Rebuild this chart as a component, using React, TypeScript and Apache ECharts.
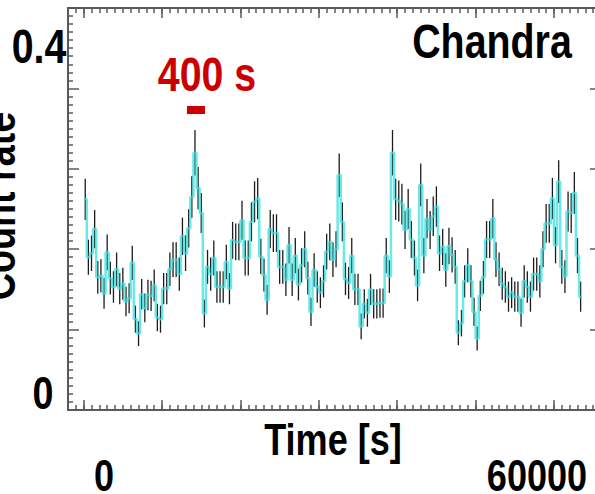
import React, { useEffect, useRef } from 'react';
import * as echarts from 'echarts';

// Time binning of the light curve (seconds per bin)
const BIN_SECONDS = 400;

// Chandra count rate per 400 s bin (counts/s)
const countRate = [
  0.262, 0.190, 0.195, 0.225, 0.165, 0.167, 0.145, 0.196, 0.164, 0.153,
  0.175, 0.151, 0.157, 0.135, 0.139, 0.183, 0.113, 0.095, 0.144, 0.127,
  0.143, 0.142, 0.155, 0.115, 0.113, 0.151, 0.151, 0.175, 0.187, 0.187,
  0.169, 0.216, 0.195, 0.226, 0.265, 0.320, 0.276, 0.245, 0.120, 0.178,
  0.169, 0.189, 0.153, 0.153, 0.153, 0.184, 0.151, 0.211, 0.209, 0.209,
  0.236, 0.189, 0.189, 0.234, 0.259, 0.263, 0.191, 0.168, 0.137, 0.225,
  0.220, 0.220, 0.178, 0.178, 0.162, 0.205, 0.162, 0.192, 0.156, 0.180,
  0.200, 0.164, 0.122, 0.174, 0.153, 0.146, 0.160, 0.197, 0.209, 0.187,
  0.200, 0.292, 0.234, 0.163, 0.158, 0.192, 0.150, 0.150, 0.104, 0.132,
  0.121, 0.150, 0.132, 0.132, 0.133, 0.133, 0.192, 0.166, 0.320, 0.262,
  0.260, 0.256, 0.224, 0.250, 0.212, 0.189, 0.155, 0.280, 0.192, 0.238,
  0.224, 0.241, 0.253, 0.195, 0.203, 0.174, 0.204, 0.193, 0.178, 0.096,
  0.108, 0.160, 0.180, 0.160, 0.122, 0.089, 0.142, 0.165, 0.212, 0.212,
  0.238, 0.187, 0.175, 0.157, 0.153, 0.141, 0.146, 0.141, 0.141, 0.121,
  0.160, 0.153, 0.141, 0.169, 0.169, 0.160, 0.200, 0.232, 0.232, 0.263,
  0.205, 0.284, 0.178, 0.166, 0.247, 0.245, 0.270, 0.192, 0.141,
];

// Axis ranges and ticks
const X_MIN = -2000;
const X_MAX = 66000;
const Y_MIN = 0;
const Y_MAX = 0.5;
const xMajorTicks = [0, 10000, 20000, 30000, 40000, 50000, 60000];
const X_MINOR_STEP = 1000;

// Tick labels (placed as in the reference)
const yTickLabels = ['0.4', '0'];
const xTickLabels = ['0', '60000'];
const xTitle = 'Time [s]';
const yTitle = 'Count rate';
const instrument = 'Chandra';
const binLabel = '400 s';

const FONT = '"Liberation Sans", Arial, Helvetica, sans-serif';
const NARROW = 0.82;
const AXIS_COLOR = '#5a5a5a';

function label(text: string, x: number, y: number, size: number, fill = '#000', rotation = 0) {
  return {
    type: 'text',
    x,
    y,
    rotation,
    scaleX: NARROW,
    style: {
      text,
      fontSize: size,
      fontWeight: 'bold',
      fontFamily: FONT,
      fill,
      align: 'center',
      verticalAlign: 'middle',
    },
  };
}

export default function App() {
  const ref = useRef<HTMLDivElement>(null);

  useEffect(() => {
    if (!ref.current) return;
    const chart = echarts.init(ref.current, undefined, { renderer: 'svg' });

    const centers = countRate.map((_, i) => BIN_SECONDS * (i + 0.5));
    const errData = countRate.map((v, i) => [centers[i], v, Math.sqrt(v / BIN_SECONDS)]);
    const stepData: number[][] = [[0, countRate[0]]];
    countRate.forEach((v, i) => stepData.push([centers[i], v]));
    stepData.push([countRate.length * BIN_SECONDS, countRate[countRate.length - 1]]);

    const axisLine = { show: true, onZero: false, lineStyle: { color: AXIS_COLOR, width: 2 } };
    const tickStyle = { color: AXIS_COLOR, width: 1.5 };

    const majorXAxis = (position: string) => ({
      type: 'value',
      min: X_MIN,
      max: X_MAX,
      position,
      axisLine,
      axisTick: { show: true, inside: true, length: 10, customValues: xMajorTicks, lineStyle: tickStyle },
      axisLabel: { show: false },
      splitLine: { show: false },
    });
    const minorXAxis = (position: string) => ({
      type: 'value',
      min: X_MIN,
      max: X_MAX,
      interval: X_MINOR_STEP,
      position,
      axisLine,
      axisTick: { show: true, inside: true, length: 5, lineStyle: tickStyle },
      axisLabel: { show: false },
      splitLine: { show: false },
    });

    const option: any = {
      animation: false,
      backgroundColor: '#ffffff',
      grid: {
        left: 68,
        top: 8,
        width: 533,
        height: 402,
        containLabel: false,
        outerBoundsMode: 'none',
      },
      xAxis: [minorXAxis('bottom'), majorXAxis('bottom'), minorXAxis('top'), majorXAxis('top')],
      yAxis: [
        {
          type: 'value',
          min: Y_MIN,
          max: Y_MAX,
          interval: 0.1,
          position: 'left',
          axisLine,
          axisTick: { show: true, inside: true, length: 11, lineStyle: tickStyle },
          minorTick: { show: true, splitNumber: 10, length: 5, lineStyle: tickStyle },
          axisLabel: { show: false },
          splitLine: { show: false },
          minorSplitLine: { show: false },
        },
        {
          type: 'value',
          min: Y_MIN,
          max: Y_MAX,
          interval: 0.1,
          position: 'right',
          axisLine,
          axisTick: { show: true, inside: true, length: 11, lineStyle: tickStyle },
          axisLabel: { show: false },
          splitLine: { show: false },
        },
      ],
      series: [
        {
          type: 'custom',
          xAxisIndex: 0,
          yAxisIndex: 0,
          silent: true,
          z: 2,
          data: errData,
          encode: { x: 0, y: 1 },
          renderItem: (_params: any, api: any) => {
            const x = api.value(0);
            const v = api.value(1);
            const e = api.value(2);
            const p1 = api.coord([x, v - e]);
            const p2 = api.coord([x, v + e]);
            return {
              type: 'line',
              shape: { x1: p1[0], y1: p1[1], x2: p2[0], y2: p2[1] },
              style: { stroke: '#1c1c1c', lineWidth: 1.3 },
            };
          },
        },
        {
          type: 'line',
          xAxisIndex: 0,
          yAxisIndex: 0,
          step: 'middle',
          silent: true,
          z: 3,
          showSymbol: false,
          symbol: 'none',
          data: stepData,
          lineStyle: { color: 'rgba(60,224,224,0.75)', width: 2.5 },
        },
      ],
      graphic: [
        label(yTickLabels[0], 39, 46, 48),
        label(yTickLabels[1], 43, 393, 46),
        label(xTickLabels[0], 104, 476, 44),
        label(xTickLabels[1], 537, 476, 44),
        label(xTitle, 333, 440, 44),
        label(yTitle, -1, 206, 46, '#000', Math.PI / 2),
        label(instrument, 492, 41, 48),
        label(binLabel, 207, 74, 48, '#cc0000'),
        {
          type: 'rect',
          shape: { x: 187, y: 106, width: 18, height: 8 },
          style: { fill: '#cc0000' },
        },
      ],
    };

    chart.setOption(option);
    return () => chart.dispose();
  }, []);

  return (
    <div
      ref={ref}
      style={{ position: 'fixed', left: 0, top: 0, width: 595, height: 494, background: '#fff' }}
    />
  );
}
